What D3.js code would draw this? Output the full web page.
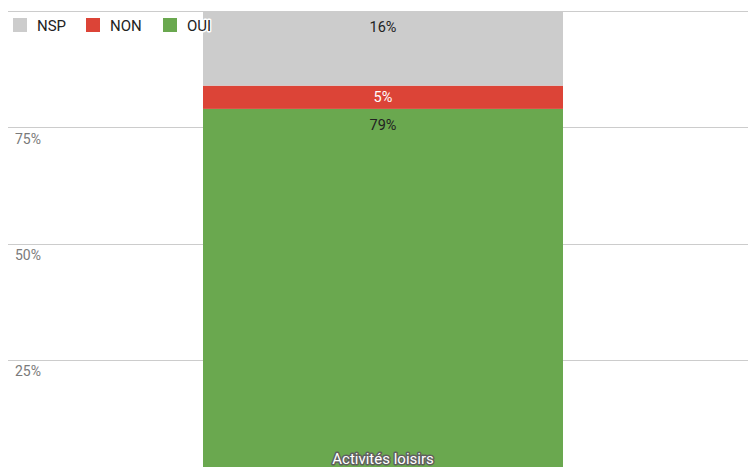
<!DOCTYPE html>
<html>
<head>
<meta charset="utf-8">
<script src="https://cdn.jsdelivr.net/npm/d3@7"></script>
<style>
  html, body { margin: 0; padding: 0; background: #fff; }
  svg { display: block; font-family: Roboto, "Noto Sans", sans-serif; }
</style>
</head>
<body>
<svg id="chart" width="748" height="467"></svg>
<script>
// Survey answers for one activity, stacked to 100%
const categories = ["Activités loisirs"];
const seriesNames = ["OUI", "NON", "NSP"];
const legendOrder = ["NSP", "NON", "OUI"];
const oui = [0.79];
const non = [0.05];
const nsp = [0.16];
const tickValues = [0.25, 0.5, 0.75, 1];
const colors = { OUI: "#6aa84f", NON: "#dc4437", NSP: "#cccccc" };
const labelColors = { OUI: "#222", NON: "#fff", NSP: "#222" };

const rows = categories.map((c, i) => ({ category: c, OUI: oui[i], NON: non[i], NSP: nsp[i] }));
const stacked = d3.stack().keys(seriesNames)(rows);

const svg = d3.select("#chart");
const W = 748;

const y = d3.scaleLinear().domain([0, 1]).range([476, 11.3]);
const x = d3.scaleBand().domain(categories).range([203, 563]).padding(0);

// Gridlines
svg.append("g")
  .selectAll("line")
  .data(tickValues)
  .join("line")
  .attr("x1", 8).attr("x2", W)
  .attr("y1", d => Math.round(y(d)) + 0.5)
  .attr("y2", d => Math.round(y(d)) + 0.5)
  .attr("stroke", "#cccccc")
  .attr("stroke-width", 1);

// Axis labels sit just under each gridline
svg.append("g")
  .selectAll("text")
  .data(tickValues.filter(d => d < 1))
  .join("text")
  .attr("x", 15)
  .attr("y", d => y(d) + 16.5)
  .attr("font-size", 14)
  .attr("fill", "#7a7a7a")
  .text(d => d3.format(".0%")(d));

// Stacked bar segments
const layers = svg.append("g")
  .selectAll("g")
  .data(stacked)
  .join("g")
  .attr("fill", d => colors[d.key]);

layers.selectAll("rect")
  .data(d => d.map(p => ({ key: d.key, p })))
  .join("rect")
  .attr("x", d => x(d.p.data.category))
  .attr("width", x.bandwidth())
  .attr("y", d => y(d.p[1]))
  .attr("height", d => y(d.p[0]) - y(d.p[1]));

// Value labels near the top of each segment (centred when the segment is thin)
layers.selectAll("text")
  .data(d => d.map(p => ({ key: d.key, p })))
  .join("text")
  .attr("x", d => x(d.p.data.category) + x.bandwidth() / 2)
  .attr("y", d => {
    const top = y(d.p[1]), bottom = y(d.p[0]);
    return Math.min(top + 21, (top + bottom) / 2 + 5);
  })
  .attr("text-anchor", "middle")
  .attr("font-size", 14.5)
  .attr("fill", d => labelColors[d.key])
  .text(d => d3.format(".0%")(d.p[1] - d.p[0]));

// Category label at the foot of the bar
svg.append("g")
  .selectAll("text")
  .data(categories)
  .join("text")
  .attr("x", d => x(d) + x.bandwidth() / 2)
  .attr("y", 464)
  .attr("text-anchor", "middle")
  .attr("font-size", 15)
  .attr("fill", "#fff")
  .attr("stroke", "#606060")
  .attr("stroke-width", 3)
  .attr("paint-order", "stroke")
  .attr("stroke-linejoin", "round")
  .text(d => d);

// Legend
const legend = svg.append("g");
const legendX = [13, 86, 163];
legendOrder.forEach((k, i) => {
  const g = legend.append("g").attr("transform", `translate(${legendX[i]},18)`);
  g.append("rect").attr("width", 14).attr("height", 14).attr("fill", colors[k]);
  g.append("text")
    .attr("x", 24).attr("y", 12.5)
    .attr("font-size", 15)
    .attr("fill", "#222")
    .attr("stroke", "#fff")
    .attr("stroke-width", 3)
    .attr("paint-order", "stroke")
    .attr("stroke-linejoin", "round")
    .text(k);
});
</script>
</body>
</html>
